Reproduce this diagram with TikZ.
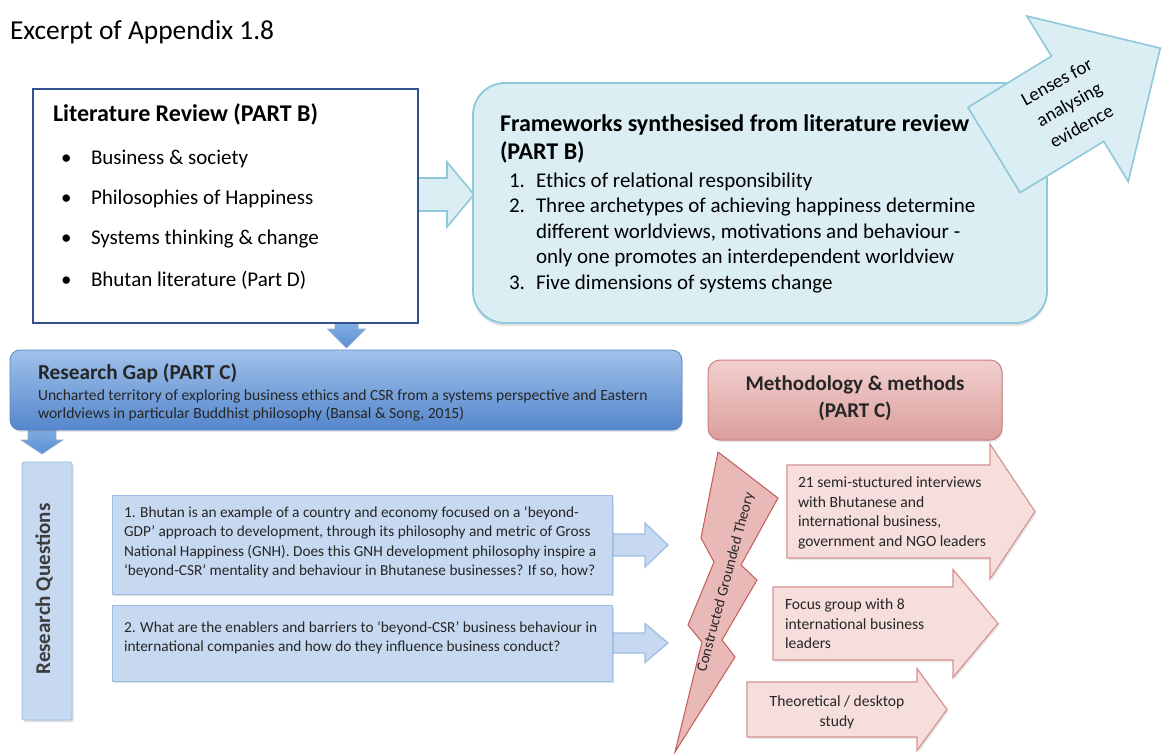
\documentclass[tikz,border=0pt]{standalone}
\usepackage{fontspec}
\setmainfont{Carlito}
\usetikzlibrary{calc,shadows}

\definecolor{lbfill}{HTML}{DAEEF3}
\definecolor{lbdraw}{HTML}{8EC8DA}
\definecolor{litblue}{HTML}{2F528F}
\definecolor{gaptop}{HTML}{A0C2EA}
\definecolor{gapbot}{HTML}{5586CC}
\definecolor{gapdraw}{HTML}{5A87C5}
\definecolor{arrtop}{HTML}{8DB7E6}
\definecolor{arrbot}{HTML}{5B8FD3}
\definecolor{rqfill}{HTML}{C6D9F1}
\definecolor{rqdraw}{HTML}{9DBCE2}
\definecolor{methtop}{HTML}{F1D0CF}
\definecolor{methbot}{HTML}{DB9E9C}
\definecolor{methdraw}{HTML}{C7817F}
\definecolor{boltfill}{HTML}{E9B9B8}
\definecolor{boltdraw}{HTML}{C45A57}
\definecolor{pinkfill}{HTML}{F6DEDD}
\definecolor{pinkdraw}{HTML}{D69391}
\definecolor{ink}{HTML}{262626}

% right-pointing block arrow: style, x start, x head, x tip, y centre, body half, head half
\newcommand\rarrow[7]{\draw[#1] (#2,#5-#6) -- (#3,#5-#6) -- (#3,#5-#7) -- (#4,#5)
  -- (#3,#5+#7) -- (#3,#5+#6) -- (#2,#5+#6) -- cycle;}
% down-pointing block arrow: style, y start, y head, y tip, x centre, body half, head half
\newcommand\darrow[7]{\draw[#1] (#5-#6,#2) -- (#5-#6,#3) -- (#5-#7,#3) -- (#5,#4)
  -- (#5+#7,#3) -- (#5+#6,#3) -- (#5+#6,#2) -- cycle;}

\begin{document}
\begin{tikzpicture}[x=1pt,y=-1pt,
  every node/.style={inner sep=0pt, outer sep=0pt},
  bodytxt/.style={font=\fontsize{21}{25.5}\selectfont},
  headtxt/.style={font=\bfseries\fontsize{24}{29}\selectfont},
  lbarrow/.style={fill=lbfill, draw=lbdraw, line width=1.6pt, line join=miter},
  blarrow/.style={top color=arrtop, bottom color=arrbot, draw=arrbot!80!black!60, line width=0.6pt},
  rqarrow/.style={fill=rqfill, draw=rqdraw, line width=1.2pt},
  pinkarrow/.style={fill=pinkfill, draw=pinkdraw, line width=1.2pt,
    drop shadow={opacity=0.18, shadow xshift=1.5pt, shadow yshift=-2pt}},
  smalltxt/.style={text=ink, font=\fontsize{15.3}{19.5}\selectfont, align=left},
  pinktxt/.style={text=ink, font=\fontsize{15.6}{19.7}\selectfont, align=left},
]
\useasboundingbox (0,0) rectangle (1164,753);
\fill[white] (0,0) rectangle (1164,753);

% heading
\node[anchor=base west, font=\fontsize{27.4}{33}\selectfont] (title) at (10,39.5) {Excerpt of Appendix 1.8};

% ---------- upper part ----------
\rarrow{lbarrow}{410}{447}{474}{194.5}{16.5}{32.5}
\darrow{blarrow}{315}{329}{348}{346.5}{11.5}{19}

\node[draw=litblue, line width=1.8pt, fill=white, minimum width=385pt, minimum height=234pt] (lit) at (225.5,206) {};
\node[headtxt, anchor=base west] (littitle) at (53,121.7) {Literature Review (PART B)};
\foreach \yy/\txt [count=\i] in {164/Business \& society, 204/Philosophies of Happiness, 244/Systems thinking \& change, 286.7/Bhutan literature (Part D)}{
  \node[bodytxt, anchor=base west] (dot\i) at (61,\yy) {\textbullet};
  \node[bodytxt, anchor=base west] (item\i) at (91,\yy) {\txt};
}

\node[fill=lbfill, draw=lbdraw, line width=1.8pt, rounded corners=32pt,
      minimum width=574pt, minimum height=240pt,
      drop shadow={opacity=0.22, shadow xshift=0pt, shadow yshift=-3pt}] (fw) at (760,203) {};
\node[headtxt, anchor=base west] (fwtitle) at (500,131) {Frameworks synthesised from literature review};
\node[headtxt, anchor=base west] (fwpart) at (500,159.5) {(PART B)};
\node[bodytxt, anchor=base west] (n1) at (509,187) {1.};
\node[bodytxt, anchor=base west] (f1) at (536,187) {Ethics of relational responsibility};
\node[bodytxt, anchor=base west] (n2) at (509,212.5) {2.};
\node[bodytxt, anchor=base west] (f2) at (536,212.5) {Three archetypes of achieving happiness determine};
\node[bodytxt, anchor=base west] (f2b) at (536,238) {different worldviews, motivations and behaviour -};
\node[bodytxt, anchor=base west] (f2c) at (536,263.5) {only one promotes an interdependent worldview};
\node[bodytxt, anchor=base west] (n3) at (509,289) {3.};
\node[bodytxt, anchor=base west] (f3) at (536,289) {Five dimensions of systems change};

% lenses arrow, laid over the corner of the frameworks box
\begin{scope}[shift={(994,150)}, rotate=31.5]
  \draw[lbarrow] (0,-50) -- (98,-50) -- (98,-97) -- (195,0) -- (98,97) -- (98,50) -- (0,50) -- cycle;
\end{scope}
\node[rotate=29, align=center, font=\fontsize{19}{25.5}\selectfont] (lenses) at (1069,104) {Lenses for\\analysing\\evidence};

% ---------- lower part ----------
\darrow{blarrow}{420}{440}{454}{42}{14}{21}
\node[top color=gaptop, bottom color=gapbot, draw=gapdraw, line width=0.8pt, rounded corners=10pt,
      minimum width=672pt, minimum height=80pt,
      drop shadow={opacity=0.2, shadow xshift=1pt, shadow yshift=-2pt}] (gap) at (346,390) {};
\node[anchor=base west, text=ink, font=\bfseries\fontsize{21.3}{25}\selectfont] (gaptitle) at (38,379) {Research Gap (PART C)};
\node[anchor=north west, smalltxt, font=\fontsize{15.6}{18}\selectfont] (gaptxt) at (38,389.5)
  {Uncharted territory of exploring business ethics and CSR from a systems perspective and Eastern\\
   worldviews in particular Buddhist philosophy (Bansal \& Song, 2015)};

\node[fill=rqfill, draw=rqdraw, line width=0.8pt, rounded corners=2pt,
      minimum width=50pt, minimum height=258pt,
      drop shadow={opacity=0.25, shadow xshift=1.5pt, shadow yshift=-2pt}] (rqcol) at (47,591) {};
\node[rotate=90, text=ink!90, font=\bfseries\fontsize{21}{25}\selectfont] (rqlabel) at (44,589) {Research Questions};

\rarrow{rqarrow}{605}{645}{668}{545}{11}{22}
\rarrow{rqarrow}{605}{645}{668}{643}{10}{19.5}

\node[fill=rqfill, draw=rqdraw, line width=1pt, minimum width=500pt, minimum height=99pt,
      drop shadow={opacity=0.25, shadow xshift=2pt, shadow yshift=-2pt}] (rq1) at (362,544.5) {};
\node[anchor=north west, smalltxt] (rq1txt) at (124,506)
  {1. Bhutan is an example of a country and economy focused on a ‘beyond-\\
   GDP’ approach to development, through its philosophy and metric of Gross\\
   National Happiness (GNH). Does this GNH development philosophy inspire a\\
   ‘beyond-CSR’ mentality and behaviour in Bhutanese businesses? If so, how?};
\node[fill=rqfill, draw=rqdraw, line width=1pt, minimum width=500pt, minimum height=76pt,
      drop shadow={opacity=0.25, shadow xshift=2pt, shadow yshift=-2pt}] (rq2) at (362,643) {};
\node[anchor=north west, smalltxt] (rq2txt) at (124,621)
  {2. What are the enablers and barriers to ‘beyond-CSR’ business behaviour in\\
   international companies and how do they influence business conduct?};

% methodology
\node[top color=methtop, bottom color=methbot, draw=methdraw, line width=1pt, rounded corners=12pt,
      minimum width=294pt, minimum height=80pt,
      drop shadow={opacity=0.2, shadow xshift=1pt, shadow yshift=-2pt}] (meth) at (855,400) {};
\node[anchor=north, align=center, text=ink, font=\bfseries\fontsize{21}{27}\selectfont] (methtxt) at (855,375.5)
  {Methodology \& methods\\(PART C)};

% constructed grounded theory bolt
\draw[fill=boltfill, draw=boltdraw, line width=1pt, line join=miter]
  (718,452) -- (778,498) -- (741,565) -- (757,580) -- (722,640) -- (735,657) -- (675,752)
  -- (702,642) -- (688,625) -- (714,562) -- (701,538) -- cycle;
\node[rotate=75, text=ink, font=\fontsize{15}{18}\selectfont] (cgt) at (726,582) {Constructed Grounded Theory};

% methods
\rarrow{pinkarrow}{787}{990}{1035}{511.5}{46.5}{67.5}
\node[anchor=north west, pinktxt] (ma) at (798,476.5)
  {21 semi-stuctured interviews\\with Bhutanese and\\international business,\\government and NGO leaders};
\rarrow{pinkarrow}{773}{953}{998}{623.5}{36.5}{54}
\node[anchor=north west, pinktxt] (mb) at (785,598.5)
  {Focus group with 8\\international business\\leaders};
\rarrow{pinkarrow}{747}{917}{947}{709.5}{27.5}{41}
\node[anchor=north, pinktxt, align=center] (mc) at (837,695.5)
  {Theoretical / desktop\\study};

\end{tikzpicture}
\end{document}
